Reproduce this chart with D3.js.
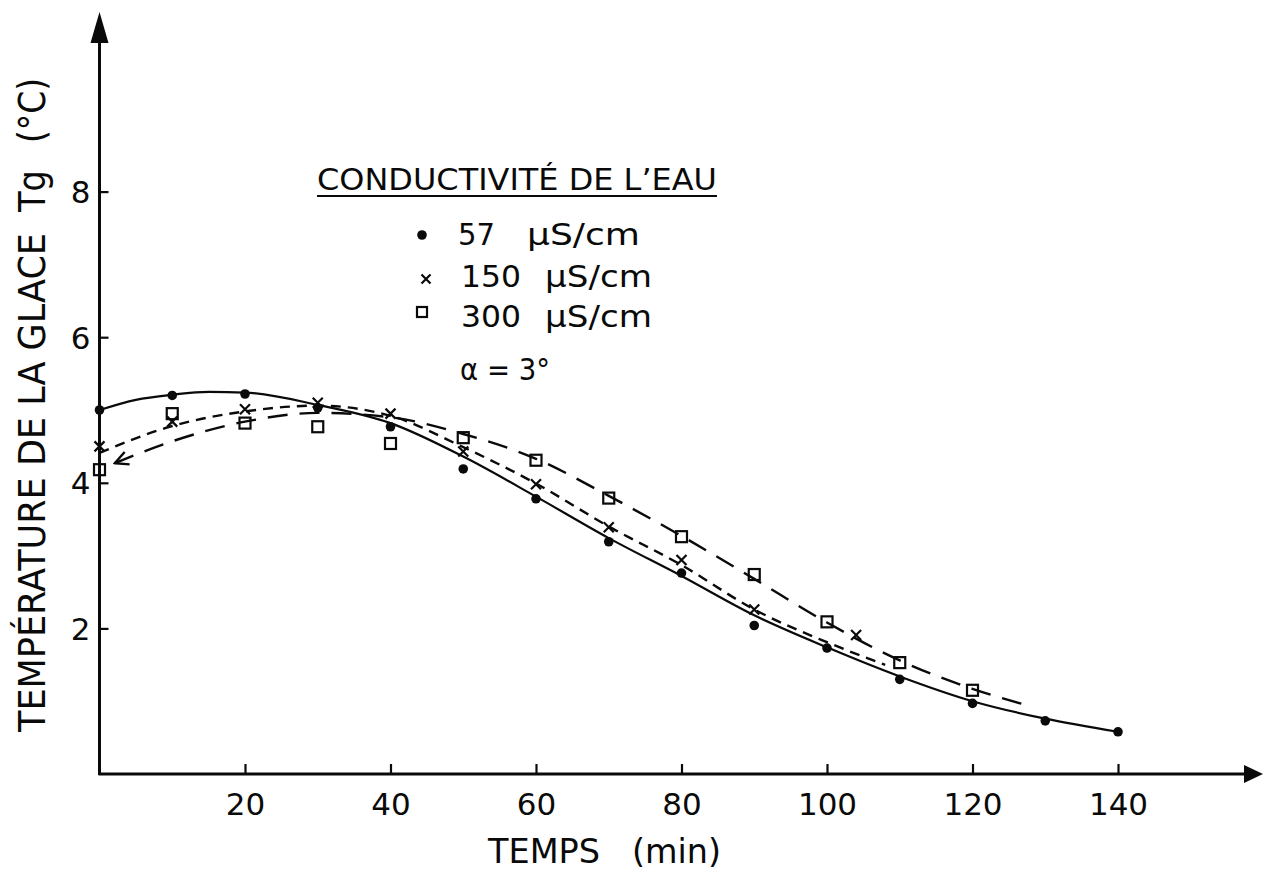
<!DOCTYPE html>
<html><head><meta charset="utf-8">
<script src="https://cdn.jsdelivr.net/npm/d3@7"></script>
<style>html,body{margin:0;padding:0;background:#fff}svg{display:block}</style>
</head><body>
<svg id="c" width="1264" height="873"></svg>
<script>
// ---- data ----
const xTicks = [20, 40, 60, 80, 100, 120, 140];
const yTicks = [2, 4, 6, 8];
// measured points
const t57 = [0,10,20,30,40,50,60,70,80,90,100,110,120,130,140];
const v57 = [5.0,5.20,5.22,5.03,4.77,4.19,3.78,3.19,2.76,2.04,1.73,1.30,0.97,0.73,0.58];
const t150 = [0,10,20,30,40,50,60,70,80,90,104];
const v150 = [4.50,4.84,5.01,5.10,4.95,4.43,3.98,3.39,2.94,2.26,1.91];
const t300 = [0,10,20,30,40,50,60,70,80,90,100,110,120];
const v300 = [4.18,4.95,4.82,4.77,4.54,4.62,4.31,3.79,3.26,2.74,2.09,1.53,1.15];
// fitted curves
const fit57t = [0,5,10,15,20,30,40,50,60,70,80,90,100,110,120,130,140];
const fit57v = [5.0,5.14,5.21,5.25,5.24,5.07,4.82,4.36,3.81,3.24,2.72,2.18,1.74,1.34,1.0,0.76,0.58];
const fit150t = [0,10,20,30,40,50,60,70,80,90,100,108];
const fit150v = [4.41,4.78,4.98,5.06,4.92,4.49,3.99,3.40,2.87,2.26,1.81,1.50];
const fit300t = [2.1,10,20,30,40,50,60,70,80,90,100,110,120,128];
const fit300v = [4.27,4.57,4.84,4.96,4.90,4.67,4.33,3.82,3.27,2.68,2.08,1.56,1.17,0.93];
const legendNums = ["57", "150", "300"];
const legendUnit = "\u00b5S/cm";

const FONT = "'DejaVu Sans', sans-serif";
const svg = d3.select("#c");
const x = d3.scaleLinear().domain([0, 160]).range([99.5, 1263.5]);
const y = d3.scaleLinear().domain([0, 10]).range([774, 46]);
const ink = "#0a0a0a";

const defs = svg.append("defs");
const mk = defs.append("marker").attr("id","carrow")
  .attr("viewBox","0 0 12 12").attr("refX",11).attr("refY",6)
  .attr("markerWidth",16).attr("markerHeight",16).attr("markerUnits","userSpaceOnUse")
  .attr("orient","auto-start-reverse");
mk.append("path").attr("d","M1,1 L11,6 L1,11").attr("fill","none").attr("stroke",ink).attr("stroke-width",1.8);

// axes
const x0 = x(0), y0 = y(0);
svg.append("line").attr("x1", x0).attr("y1", y0+1).attr("x2", x0).attr("y2", 40)
  .attr("stroke", ink).attr("stroke-width", 3);
svg.append("path").attr("d", `M${x0},12 L${x0-9},43 L${x0+9},43 Z`).attr("fill", ink);
svg.append("line").attr("x1", x0-1).attr("y1", y0).attr("x2", 1248).attr("y2", y0)
  .attr("stroke", ink).attr("stroke-width", 3);
svg.append("path").attr("d", `M1263,${y0} L1244,${y0-9} L1244,${y0+9} Z`).attr("fill", ink);

// x ticks
const xAxis = d3.axisBottom(x).tickValues(xTicks).tickSize(0).tickPadding(0);
const gx = svg.append("g").attr("transform", `translate(0,${y0})`).call(xAxis);
gx.select(".domain").remove();
gx.selectAll(".tick text").attr("y", 41).attr("dy", 0).attr("font-size", 31)
  .attr("font-family", FONT).attr("fill", ink);
gx.selectAll(".tick").append("line").attr("y1", 0).attr("y2", -10).attr("stroke", ink).attr("stroke-width", 2.2);

// y ticks
const yAxis = d3.axisLeft(y).tickValues(yTicks).tickSize(0).tickPadding(0);
const gy = svg.append("g").attr("transform", `translate(${x0},0)`).call(yAxis);
gy.select(".domain").remove();
gy.selectAll(".tick text").attr("x", -9).attr("dy", "0.36em").attr("font-size", 31)
  .attr("font-family", FONT).attr("fill", ink);
gy.selectAll(".tick").append("line").attr("x1", 0).attr("x2", 9).attr("stroke", ink).attr("stroke-width", 2.2);

// axis titles
svg.append("text").attr("x", 488).attr("y", 863).attr("font-family", FONT).attr("font-size", 33)
  .attr("fill", ink).attr("textLength", 112).attr("lengthAdjust","spacingAndGlyphs").text("TEMPS");
svg.append("text").attr("x", 632).attr("y", 863).attr("font-family", FONT).attr("font-size", 33)
  .attr("fill", ink).attr("textLength", 89).attr("lengthAdjust","spacingAndGlyphs").text("(min)");

function vtext(txt, yb, yt, size) {
  svg.append("text").attr("transform", `translate(45,${yb}) rotate(-90)`)
    .attr("font-family", FONT).attr("font-size", size).attr("fill", ink)
    .attr("textLength", yb - yt).attr("lengthAdjust","spacingAndGlyphs").text(txt);
}
vtext("TEMPÉRATURE DE LA GLACE", 732, 233, 37);
vtext("Tg", 212, 170, 37);
vtext("(°C)", 143, 78, 37);

// curves
const line = d3.line().x(d => x(d[0])).y(d => y(d[1])).curve(d3.curveMonotoneX);
svg.append("path").attr("d", line(d3.zip(fit57t, fit57v))).attr("fill","none")
  .attr("stroke", ink).attr("stroke-width", 2.2);
svg.append("path").attr("d", line(d3.zip(fit150t, fit150v))).attr("fill","none")
  .attr("stroke", ink).attr("stroke-width", 2.4).attr("stroke-dasharray", "10,7");
svg.append("path").attr("d", line(d3.zip(fit300t, fit300v))).attr("fill","none")
  .attr("stroke", ink).attr("stroke-width", 2.4).attr("stroke-dasharray", "20,12")
  .attr("marker-start", "url(#carrow)");

// markers
function dot(g, cx, cy) { g.append("circle").attr("cx", cx).attr("cy", cy).attr("r", 4.8).attr("fill", ink); }
function cross(g, cx, cy, s) {
  g.append("path").attr("d", `M${cx-s},${cy-s} L${cx+s},${cy+s} M${cx-s},${cy+s} L${cx+s},${cy-s}`)
    .attr("stroke", ink).attr("stroke-width", 2.2).attr("fill","none");
}
function sq(g, cx, cy, s) {
  g.append("rect").attr("x", cx-s).attr("y", cy-s).attr("width", 2*s).attr("height", 2*s)
    .attr("fill", "none").attr("stroke", ink).attr("stroke-width", 2.2);
}
const gm = svg.append("g");
t300.forEach((t,i) => sq(gm, x(t), y(v300[i]), 5.5));
t150.forEach((t,i) => cross(gm, x(t), y(v150[i]), 5));
t57.forEach((t,i) => dot(gm, x(t), y(v57[i])));

// legend
svg.append("text").attr("x", 317).attr("y", 190).attr("font-family", FONT).attr("font-size", 30)
  .attr("fill", ink).attr("textLength", 400).attr("lengthAdjust","spacingAndGlyphs")
  .text("CONDUCTIVITÉ DE L\u2019EAU");
svg.append("line").attr("x1", 317).attr("x2", 717).attr("y1", 196).attr("y2", 196)
  .attr("stroke", ink).attr("stroke-width", 2);
const lg = svg.append("g");
dot(lg, 422, 235);
cross(lg, 426, 279, 4.5);
sq(lg, 422, 312, 5);
const numX = [458, 461, 461], numW = [37, 60, 60];
const unitX = [527, 545, 545], unitW = [113, 107, 107];
const ly = [245, 287, 327];
legendNums.forEach((s, i) => {
  lg.append("text").attr("x", numX[i]).attr("y", ly[i]).attr("font-family", FONT).attr("font-size", 31)
    .attr("fill", ink).attr("textLength", numW[i]).attr("lengthAdjust","spacingAndGlyphs").text(s);
  lg.append("text").attr("x", unitX[i]).attr("y", ly[i]).attr("font-family", FONT).attr("font-size", 31)
    .attr("fill", ink).attr("textLength", unitW[i]).attr("lengthAdjust","spacingAndGlyphs").text(legendUnit);
});
lg.append("text").attr("x", 460).attr("y", 380).attr("font-family", FONT).attr("font-size", 31)
  .attr("fill", ink).attr("textLength", 90).attr("lengthAdjust","spacingAndGlyphs").text("α = 3°");
</script>
</body></html>
